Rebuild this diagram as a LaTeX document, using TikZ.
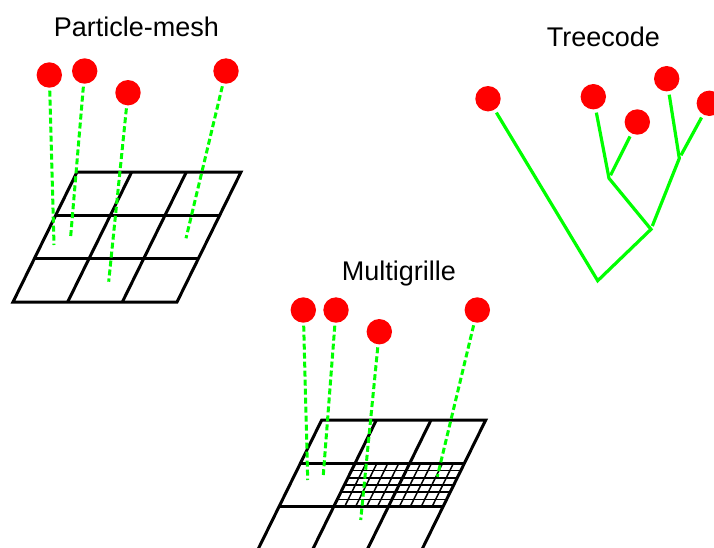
\documentclass[tikz,border=0pt]{standalone}
\usepackage{fontspec}
\setmainfont{Liberation Sans}
\begin{document}
\begin{tikzpicture}[x=1pt,y=-1pt]
\tikzstyle{title}=[font=\fontsize{27}{31}\selectfont,anchor=base];
\tikzstyle{part}=[circle,fill=red,minimum size=25.4pt,inner sep=0pt,outer sep=0pt];
\tikzstyle{drop}=[green,line width=3pt,dash pattern=on 6pt off 3pt,shorten <=3pt];
\tikzstyle{branch}=[green,line width=3.2pt,shorten <=3.5pt,shorten >=3.5pt];
\tikzstyle{mesh}=[line width=3pt];
\tikzstyle{fine}=[line width=1.5pt];
\path [use as bounding box,clip] (0,0) rectangle (714,547);

\node (pmtitle) [title] at (136.5,36) {Particle-mesh};
\begin{scope}[shift={(77,172)},xslant=0.4923]
\draw [mesh] (0,0) rectangle (164,130);
\foreach \i in {1,2} {
  \draw [mesh] (0,43.33*\i) -- (164,43.33*\i);
  \draw [mesh] (54.67*\i,0) -- (54.67*\i,130);
}
\end{scope}
\node [part] (p1) at (49.3,75) {};
\node [part] (p2) at (84.7,71) {};
\node [part] (p3) at (128,92.7) {};
\node [part] (p4) at (226,71) {};
\coordinate (p1e) at (54,245);
\coordinate (p2e) at (70.7,236);
\coordinate (p3e) at (108.7,281.7);
\coordinate (p4e) at (186,238.3);
\draw [drop] (p1) -- (p1e);
\draw [drop] (p2) -- (p2e);
\draw [drop] (p3) -- (p3e);
\draw [drop] (p4) -- (p4e);

\node (mgtitle) [title] at (398.8,280) {Multigrille};
\begin{scope}[shift={(321.7,420)},xslant=0.4923]
\foreach \k in {1,2,3,4,6,7,8,9}
  \draw [fine] (54.67+10.933*\k,43.33) -- (54.67+10.933*\k,86.67);
\foreach \j in {1,...,5}
  \draw [fine] (54.67,43.33+7.222*\j) -- (164,43.33+7.222*\j);
\draw [mesh] (0,0) rectangle (164,130);
\foreach \i in {1,2} {
  \draw [mesh] (0,43.33*\i) -- (164,43.33*\i);
  \draw [mesh] (54.67*\i,0) -- (54.67*\i,130);
}
\end{scope}
\node [part] (m1) at (303.3,310) {};
\node [part] (m2) at (336,310) {};
\node [part] (m3) at (379.3,331.7) {};
\node [part] (m4) at (477.3,310) {};
\coordinate (m1e) at (307.7,480);
\coordinate (m2e) at (323.3,475);
\coordinate (m3e) at (360.7,520);
\coordinate (m4e) at (437.3,476.7);
\draw [drop] (m1) -- (m1e);
\draw [drop] (m2) -- (m2e);
\draw [drop] (m3) -- (m3e);
\draw [drop] (m4) -- (m4e);

\node (tctitle) [title] at (603.3,46.7) {Treecode};
\node [part] (t1) at (488,98.7) {};
\node [part] (t2) at (593.3,96.7) {};
\node [part] (t3) at (637.3,122) {};
\node [part] (t4) at (666.7,78.7) {};
\node [part] (t5) at (709.3,103.3) {};
\coordinate (root) at (597.7,280.7);
\coordinate (ta) at (651,229.3);
\coordinate (tb) at (609,178.3);
\coordinate (tc) at (679.3,158.3);
\draw [branch] (t1) -- (root) -- (ta) -- (tb) -- (t2);
\draw [branch] (tb) -- (t3);
\draw [branch] (ta) -- (tc) -- (t4);
\draw [branch] (tc) -- (t5);
\end{tikzpicture}
\end{document}
